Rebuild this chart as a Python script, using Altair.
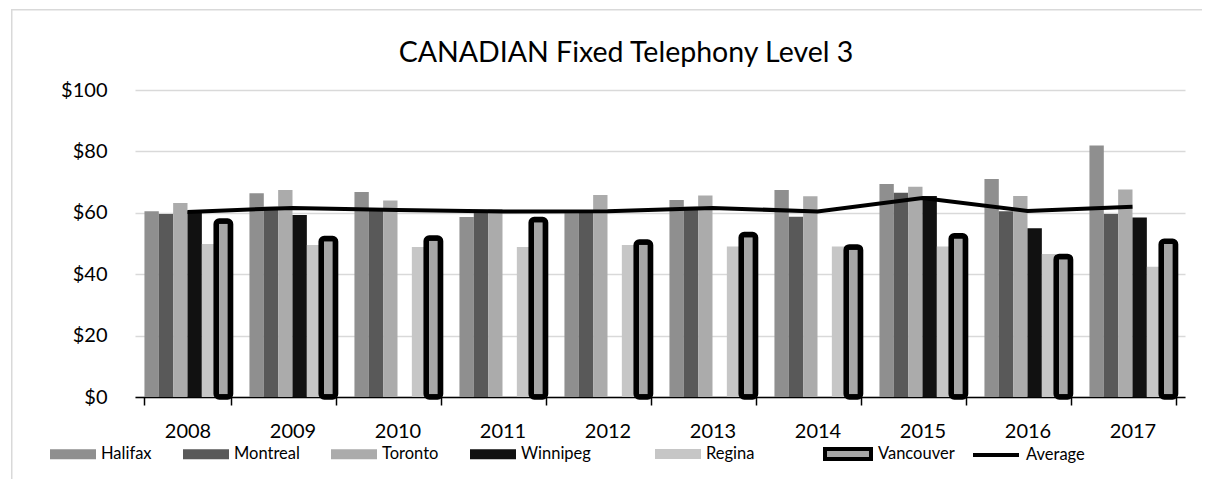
import altair as alt
import pandas as pd

years = ["2008", "2009", "2010", "2011", "2012", "2013", "2014", "2015", "2016", "2017"]
cities = ["Halifax", "Montreal", "Toronto", "Winnipeg", "Regina", "Vancouver"]
halifax = [60.5, 66.4, 66.8, 58.6, 60.3, 64.2, 67.4, 69.4, 71.0, 81.9]
montreal = [59.6, 62.0, 61.5, 61.0, 60.0, 62.0, 58.7, 66.5, 60.5, 59.6]
toronto = [63.2, 67.4, 64.0, 61.2, 65.8, 65.6, 65.4, 68.5, 65.5, 67.6]
winnipeg = [60.5, 59.3, None, None, None, None, None, 65.5, 55.0, 58.5]
regina = [49.8, 49.5, 48.9, 48.9, 49.5, 49.0, 49.0, 49.0, 46.6, 42.4]
vancouver = [57.3, 51.6, 51.8, 57.8, 50.5, 52.9, 48.9, 52.5, 45.8, 50.7]
average = [60.3, 61.6, 60.9, 60.4, 60.5, 61.6, 60.4, 64.8, 60.6, 62.0]
title_text = "CANADIAN Fixed Telephony Level 3"

fills = {"Halifax": "#8f8f8f", "Montreal": "#595959", "Toronto": "#ababab",
         "Winnipeg": "#111111", "Regina": "#c6c6c6", "Vancouver": "#a6a6a6"}

rows = []
for name, series in zip(cities, [halifax, montreal, toronto, winnipeg, regina, vancouver]):
    for y, v in zip(years, series):
        if v is not None:
            rows.append({"year": y, "city": name, "value": v})
bars_df = pd.DataFrame(rows)
avg_df = pd.DataFrame({"year": years, "value": average, "series": ["Average"] * len(years)})

FONT = "Lato"
LEG_Y = 341
RECT = "M-1,-0.22H1V0.22H-1Z"

x_enc = alt.X(
    "year:O",
    title=None,
    scale=alt.Scale(domain=years, paddingInner=0.18, paddingOuter=0.09),
    axis=alt.Axis(
        labelAngle=0, labelFontSize=20, labelFont=FONT, labelColor="#000000",
        domainColor="#000000", domainWidth=1.5, tickColor="#000000", tickWidth=1.5,
        tickSize=8, tickBand="extent", labelPadding=16,
    ),
)
y_enc = alt.Y(
    "value:Q",
    title=None,
    scale=alt.Scale(domain=[0, 100], nice=False),
    axis=alt.Axis(
        values=[0, 20, 40, 60, 80, 100], format="$.0f", domain=False, ticks=False,
        gridColor="#d9d9d9", gridWidth=1.3, labelFontSize=20, labelFont=FONT,
        labelColor="#000000", labelPadding=28,
    ),
)
xoff = alt.XOffset("city:N", scale=alt.Scale(domain=cities, paddingInner=0, paddingOuter=0))


def make_legend(lx, ly, stroke_w=0):
    return alt.Legend(
        title=None, orient="none", legendX=lx, legendY=ly, direction="horizontal",
        symbolType=RECT, symbolSize=2116, symbolStrokeWidth=stroke_w, symbolOpacity=1,
        labelFont=FONT, labelFontSize=16.5, labelColor="#000000", labelOffset=5,
        columnPadding=31, labelLimit=300,
    )


base = alt.Chart(bars_df)
group_a = ["Halifax", "Montreal", "Toronto", "Winnipeg"]
bars_a = base.transform_filter(
    alt.FieldOneOfPredicate(field="city", oneOf=group_a)
).mark_bar(strokeWidth=0).encode(
    x=x_enc, y=y_enc, xOffset=xoff,
    fill=alt.Fill("city:N", scale=alt.Scale(domain=group_a, range=[fills[c] for c in group_a]),
                  legend=make_legend(-85, LEG_Y)),
)
bars_r = base.transform_filter(alt.datum.city == "Regina").mark_bar(strokeWidth=0).encode(
    x=x_enc, y=y_enc, xOffset=xoff,
    fill=alt.Fill("city:N", scale=alt.Scale(domain=["Regina"], range=[fills["Regina"]]),
                  legend=make_legend(520, LEG_Y)),
)
van_leg = make_legend(688, LEG_Y - 2, 4)
bars_v = base.transform_filter(alt.datum.city == "Vancouver").mark_bar(
    strokeWidth=5.5, cornerRadius=3, strokeJoin="round"
).encode(
    x=x_enc, y=y_enc, xOffset=xoff,
    fill=alt.Fill("city:N", scale=alt.Scale(domain=["Vancouver"], range=[fills["Vancouver"]]),
                  legend=van_leg),
    stroke=alt.Stroke("city:N", scale=alt.Scale(domain=["Vancouver"], range=["#000000"]),
                      legend=van_leg),
)

line = alt.Chart(avg_df).mark_line(strokeWidth=4, strokeCap="butt").encode(
    x=x_enc, y=y_enc,
    color=alt.Color(
        "series:N", scale=alt.Scale(domain=["Average"], range=["#000000"]),
        legend=alt.Legend(
            title=None, orient="none", legendX=836, legendY=LEG_Y - 1, symbolType="stroke",
            symbolSize=2116, symbolStrokeWidth=4, labelFont=FONT, labelFontSize=16.5,
            labelColor="#000000", labelOffset=5,
        ),
    ),
)

one = pd.DataFrame({"a": [0]})
top_edge = alt.Chart(one).mark_rect(color="#d9d9d9", strokeWidth=0).encode(
    x=alt.value(-124), x2=alt.value(1100), y=alt.value(-81), y2=alt.value(-79.5)
)
left_edge = alt.Chart(one).mark_rect(color="#d9d9d9", strokeWidth=0).encode(
    x=alt.value(-124), x2=alt.value(-122.5), y=alt.value(-81), y2=alt.value(500)
)
title = alt.Chart(one).mark_text(
    text=title_text, font=FONT, fontSize=28.5, align="center", baseline="alphabetic",
    color="#000000",
).encode(x=alt.value(491), y=alt.value(-28))

chart = alt.layer(top_edge, left_edge, bars_a, bars_r, bars_v, line, title).resolve_scale(
    fill="independent", stroke="independent"
).properties(
    width=1050, height=307,
    background="#ffffff",
    autosize=alt.AutoSizeParams(type="none"),
    padding={"left": 127, "top": 82, "right": 17, "bottom": 82},
).configure_view(stroke="transparent")

chart.save("out.html", embed_options={"renderer": "svg", "actions": False})
